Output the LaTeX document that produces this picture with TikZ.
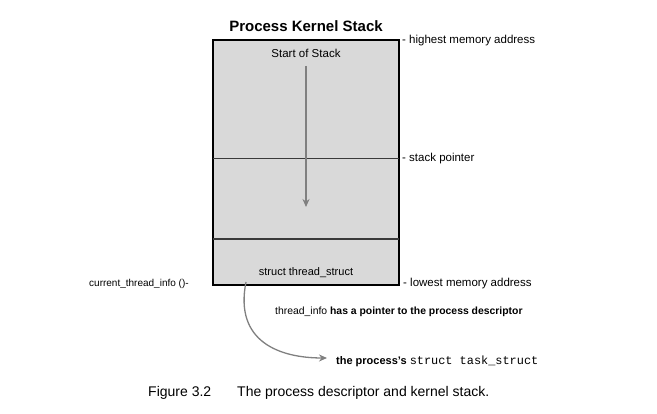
\documentclass[tikz,border=0pt]{standalone}
\usepackage{fontspec}
\setmainfont{Liberation Sans}
\setmonofont{Liberation Mono}
\usetikzlibrary{arrows.meta}
\definecolor{boxfill}{HTML}{D9D9D9}
\definecolor{arrowgray}{HTML}{808080}
\definecolor{divider}{HTML}{3A3A3A}
\tikzset{
  lbl/.style={inner sep=0pt, font=\fontsize{11.5}{13}\selectfont},
  small/.style={inner sep=0pt, font=\fontsize{10}{12}\selectfont},
  grayarrow/.style={draw=arrowgray, line width=1.3pt, -{Stealth[length=8pt,width=7pt]}},
  divline/.style={draw=divider, line width=1.2pt},
  captxt/.style={inner sep=0pt, anchor=base west, font=\fontsize{14}{16}\selectfont}
}
\begin{document}
\begin{tikzpicture}[x=1pt,y=1pt]
\useasboundingbox (0,0) rectangle (657,414);
% stack box
\node[draw=black, line width=1.6pt, fill=boxfill, minimum width=186pt, minimum height=245pt, inner sep=0pt] (stack) at (306,251.5) {};
\coordinate (spl) at (213,255.7);
\coordinate (spr) at (399,255.7);
\coordinate (lol) at (213,175);
\coordinate (lor) at (399,175);
\draw[divline] (spl) -- (spr);
\draw[divline] (lol) -- (lor);
% title
\node[inner sep=0pt, anchor=base, font=\fontsize{15}{17}\selectfont\bfseries] (title) at (306,382) {Process Kernel Stack};
% inside texts
\node[lbl, anchor=base] (start) at (306,356.7) {Start of Stack};
\coordinate (growstart) at (306,348);
\coordinate (growend) at (306,207);
\draw[grayarrow] (growstart) -- (growend);
\node[lbl, anchor=base, font=\fontsize{11}{13}\selectfont] (ts) at (306,138) {struct thread\_struct};
% right labels
\node[lbl, anchor=base west] (high) at (402,370) {- highest memory address};
\node[lbl, anchor=base west] (sp) at (402,252.3) {- stack pointer};
\node[lbl, anchor=base west] (low) at (403,127.3) {- lowest memory address};
% left label
\node[small, anchor=base west] (cti) at (89,127.3) {current\_thread\_info ()-};
% pointer note
\node[inner sep=0pt, anchor=base west, font=\fontsize{10.4}{12}\selectfont] (note) at (275,99.7) {thread\_info \textbf{has a pointer to the process descriptor}};
% task struct
\node[inner sep=0pt, anchor=base west, font=\fontsize{11}{13}\selectfont] (task) at (336,49.7) {\textbf{the process’s} {\fontsize{11.9}{13}\selectfont\ttfamily struct task\_struct}};
\coordinate (curvestart) at (246,132);
\coordinate (curveend) at (327,56);
\draw[grayarrow] (curvestart) .. controls (234,72) and (280,56) .. (curveend);
% caption
\node[captxt] (figlbl) at (148,17.3) {Figure 3.2};
\node[captxt] (caption) at (237,17.3) {The process descriptor and kernel stack.};
\end{tikzpicture}
\end{document}
